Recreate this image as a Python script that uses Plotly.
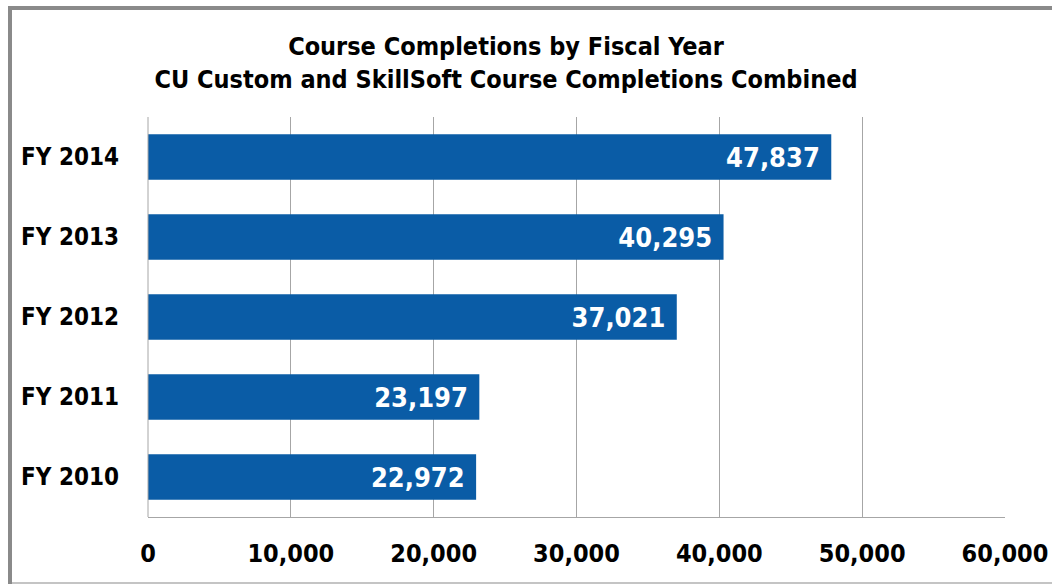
import plotly.graph_objects as go

categories = ["FY 2010", "FY 2011", "FY 2012", "FY 2013", "FY 2014"]
values = [22972, 23197, 37021, 40295, 47837]
tick_vals = [0, 10000, 20000, 30000, 40000, 50000, 60000]
tick_text = ["0", "10,000", "20,000", "30,000", "40,000", "50,000", "60,000"]
title_lines = ["Course Completions by Fiscal Year",
               "CU Custom and SkillSoft Course Completions Combined"]

FONT = "DejaVu Sans Condensed, Liberation Sans Narrow, Arial Narrow, sans-serif"
W, H = 1052, 584
# plot area in reference pixels: x 148..1005, y 117..517
L, T = 148, 117
R = W - 1005
B = H - 517
pw, ph = W - L - R, H - T - B

fig = go.Figure(go.Bar(
    y=categories, x=values, orientation="h",
    marker=dict(color="#0A5CA6", line=dict(width=0)),
    width=0.57,
    texttemplate="%{x:,}\u00a0",
    textposition="inside", insidetextanchor="end",
    textfont=dict(family=FONT, size=27, color="white", weight="bold"),
    cliponaxis=False,
))

def px_x(p):
    return (p - L) / pw

def px_y(p):
    return (H - B - p) / ph

fig.update_layout(
    width=W, height=H,
    margin=dict(l=L, r=R, t=T, b=B, autoexpand=False),
    paper_bgcolor="white", plot_bgcolor="white",
    showlegend=False,
    title=dict(text="<b>" + "<br>".join(title_lines) + "</b>",
               x=px_x(506), xanchor="center", xref="paper",
               y=1 - 55 / H, yanchor="top",
               font=dict(family=FONT, size=25, color="black")),
    xaxis=dict(range=[0, 60000], tickvals=tick_vals, ticktext=tick_text,
               showgrid=True, gridcolor="#A6A6A6", gridwidth=1,
               zeroline=False, showline=True, linecolor="#A6A6A6",
               ticks="", ticklabelstandoff=14, automargin=False,
               ticklabeloverflow="allow",
               tickfont=dict(family=FONT, size=25, color="black", weight="bold")),
    yaxis=dict(showgrid=False, zeroline=False, showline=False, ticks="",
               ticklabelstandoff=28, automargin=False,
               tickfont=dict(family=FONT, size=24, color="black", weight="bold")),
    bargap=0.43,
    shapes=[
        dict(type="line", xref="paper", yref="paper",
             x0=px_x(148), x1=px_x(148), y0=px_y(517), y1=px_y(117),
             line=dict(color="#A6A6A6", width=1)),
        dict(type="line", xref="paper", yref="paper",
             x0=px_x(10), x1=px_x(10), y0=px_y(584), y1=px_y(6),
             line=dict(color="#8A8A8A", width=4), layer="above"),
        dict(type="line", xref="paper", yref="paper",
             x0=px_x(8), x1=px_x(1052), y0=px_y(8), y1=px_y(8),
             line=dict(color="#8A8A8A", width=4), layer="above"),
        dict(type="line", xref="paper", yref="paper",
             x0=px_x(12), x1=px_x(1052), y0=px_y(583), y1=px_y(583),
             line=dict(color="#C4C4C4", width=2), layer="above"),
    ],
)

fig.write_html("out.html",
               config={"displayModeBar": False},
               post_script="document.body.style.margin='0';"
                           "document.body.style.overflow='hidden';")
